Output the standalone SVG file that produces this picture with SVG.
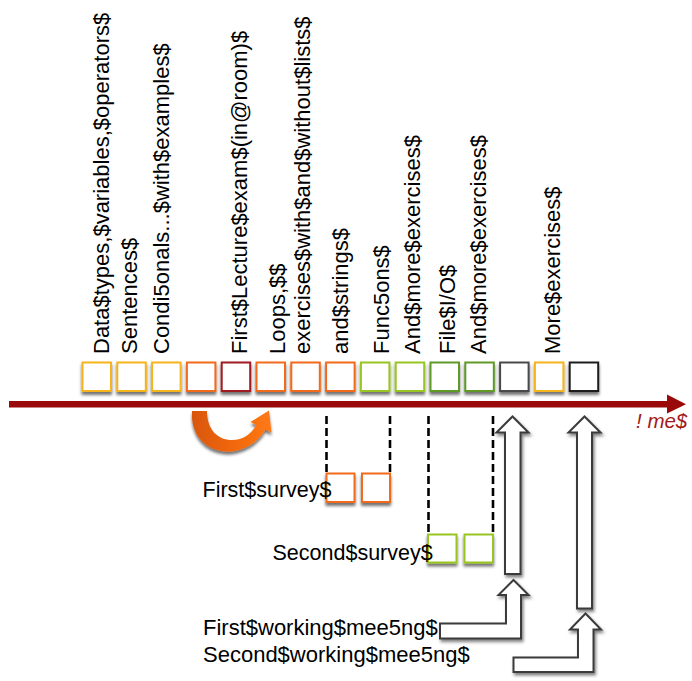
<svg xmlns="http://www.w3.org/2000/svg" width="692" height="681" viewBox="0 0 692 681">
<style>
  text { font-family: "Liberation Sans", Arial, sans-serif; fill: #000; }
  .vl { font-size: 22px; }
  .hl { font-size: 22px; }
  .sl { font-size: 21.5px; }
  .sq { fill: #fff; stroke-width: 2; filter: url(#sh); }
  .gold { stroke: #F5B41C; }
  .orange { stroke: #F26A1B; }
  .dred { stroke: #9E1B20; }
  .lgreen { stroke: #98C520; }
  .dgreen { stroke: #5F9A28; }
  .gray { stroke: #4A4A4A; }
  .black { stroke: #1E1E1E; }
  .dash { stroke: #000; stroke-width: 2.6; stroke-dasharray: 8 4; fill: none; }
  .blk { fill: #fff; stroke: #3A3A3A; stroke-width: 2; stroke-linejoin: miter; filter: url(#sh2); }
</style>
<defs>
  <filter id="sh" x="-30%" y="-30%" width="160%" height="170%">
    <feDropShadow dx="0" dy="3" stdDeviation="1.8" flood-color="#000" flood-opacity="0.55"/>
  </filter>
  <filter id="sh2" x="-30%" y="-10%" width="160%" height="130%">
    <feDropShadow dx="1.5" dy="2.5" stdDeviation="1.8" flood-color="#000" flood-opacity="0.5"/>
  </filter>
  <linearGradient id="og" x1="0" y1="0" x2="1" y2="0">
    <stop offset="0" stop-color="#D95608"/>
    <stop offset="0.6" stop-color="#F46A0E"/>
    <stop offset="1" stop-color="#FF7A14"/>
  </linearGradient>
</defs>

<g id="labels">
  <text class="vl" transform="translate(108.5,354) rotate(-90)">Data$types,$variables,$operators$</text>
  <text class="vl" transform="translate(137,354) rotate(-90)">Sentences$</text>
  <text class="vl" transform="translate(168.5,354) rotate(-90)">Condi5onals...$with$examples$</text>
  <text class="vl" transform="translate(247,354) rotate(-90)">First$Lecture$exam$(in@room)$</text>
  <text class="vl" transform="translate(285,354) rotate(-90)">Loops,$$</text>
  <text class="vl" transform="translate(310,354) rotate(-90)">exercises$with$and$without$lists$</text>
  <text class="vl" transform="translate(348,354) rotate(-90)">and$strings$</text>
  <text class="vl" transform="translate(389,354) rotate(-90)">Func5ons$</text>
  <text class="vl" transform="translate(419.5,354) rotate(-90)">And$more$exercises$</text>
  <text class="vl" transform="translate(455,354) rotate(-90)">File$I/O$</text>
  <text class="vl" transform="translate(485.5,354) rotate(-90)">And$more$exercises$</text>
  <text class="vl" transform="translate(559.5,354) rotate(-90)">More$exercises$</text>
</g>

<g id="squares">
  <rect class="sq gold" x="82.5" y="362.5" width="28.5" height="28.5"/>
  <rect class="sq gold" x="117.3" y="362.5" width="28.5" height="28.5"/>
  <rect class="sq gold" x="152.1" y="362.5" width="28.5" height="28.5"/>
  <rect class="sq orange" x="186.9" y="362.5" width="28.5" height="28.5"/>
  <rect class="sq dred" x="221.7" y="362.5" width="28.5" height="28.5"/>
  <rect class="sq orange" x="256.5" y="362.5" width="28.5" height="28.5"/>
  <rect class="sq orange" x="291.3" y="362.5" width="28.5" height="28.5"/>
  <rect class="sq orange" x="326.1" y="362.5" width="28.5" height="28.5"/>
  <rect class="sq lgreen" x="360.9" y="362.5" width="28.5" height="28.5"/>
  <rect class="sq lgreen" x="395.7" y="362.5" width="28.5" height="28.5"/>
  <rect class="sq dgreen" x="430.5" y="362.5" width="28.5" height="28.5"/>
  <rect class="sq dgreen" x="465.3" y="362.5" width="28.5" height="28.5"/>
  <rect class="sq gray" x="500.1" y="362.5" width="28.5" height="28.5"/>
  <rect class="sq gold" x="534.9" y="362.5" width="28.5" height="28.5"/>
  <rect class="sq black" x="569.7" y="362.5" width="28.5" height="28.5"/>
</g>

<g id="timeline">
  <rect x="9" y="401" width="661" height="6.5" fill="#9B0A0A"/>
  <polygon points="667,394.5 686,404.2 667,413.5" fill="#9B0A0A"/>
  <text x="636" y="428" font-size="20.5" font-style="italic" style="fill:#A31A1A">! me$</text>
</g>

<g id="connectors">
  <path d="M192,411 C190,441 214,455 235,451 C250,448 260,439 265.4,429.5 L271.5,432.4 L269,410.5 L250.5,422 L256.4,425 C251,434 243,440 232,440 C218,440 207,430 207,411 Z" fill="url(#og)" filter="url(#sh)"/>
  <line class="dash" x1="326.5" y1="416" x2="326.5" y2="473"/>
  <line class="dash" x1="390" y1="416" x2="390" y2="473"/>
  <line class="dash" x1="428.5" y1="416" x2="428.5" y2="534"/>
  <line class="dash" x1="493" y1="416" x2="493" y2="534"/>
  <polygon class="blk" points="512.5,416.5 528.5,432.5 520.5,432.5 520.5,574 505,574 505,432.5 496.5,432.5"/>
  <polygon class="blk" points="584.5,416.5 600.5,432.5 592,432.5 592,608.5 577,608.5 577,432.5 568.5,432.5"/>
  <polygon class="blk" points="513.5,580 528.5,595 521,595 521,638.5 440,638.5 440,623.5 506,623.5 506,595 498.5,595"/>
  <polygon class="blk" points="585.5,613.5 601,629.5 593.5,629.5 593.5,672 513.5,672 513.5,657.5 578,657.5 578,629.5 570,629.5"/>
</g>

<g id="first-survey">
  <rect class="sq orange" x="326.5" y="473.5" width="28" height="28.5"/>
  <rect class="sq orange" x="362" y="473.5" width="28" height="28.5"/>
  <text class="sl" x="202.5" y="497">First$survey$</text>
</g>

<g id="second-survey">
  <rect class="sq lgreen" x="428" y="534.5" width="28.5" height="28"/>
  <rect class="sq lgreen" x="464.5" y="534.5" width="28.5" height="28"/>
  <text class="sl" x="272.5" y="560">Second$survey$</text>
</g>

<g id="first-meeting">
  <text class="hl" x="203" y="635">First$working$mee5ng$</text>
</g>
<g id="second-meeting">
  <text class="hl" x="203" y="662">Second$working$mee5ng$</text>
</g>
</svg>
